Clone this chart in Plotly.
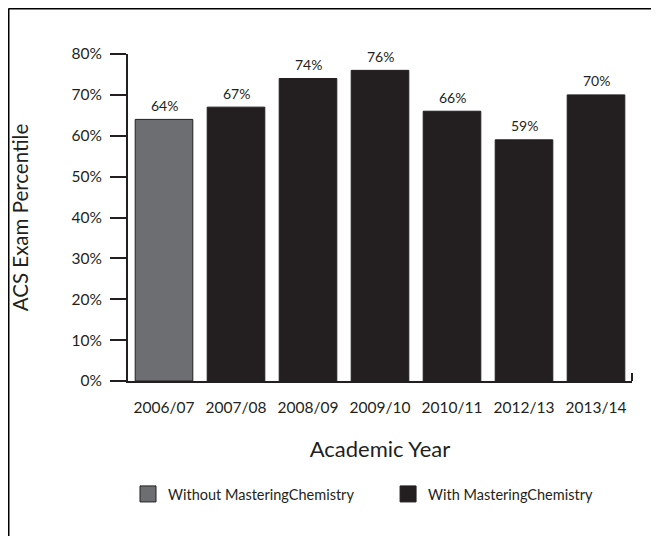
import plotly.graph_objects as go

years = ["2006/07", "2007/08", "2008/09", "2009/10", "2010/11", "2012/13", "2013/14"]
without_years = ["2006/07"]
without_vals = [64]
with_years = ["2007/08", "2008/09", "2009/10", "2010/11", "2012/13", "2013/14"]
with_vals = [67, 74, 76, 66, 59, 70]
y_ticks = [0, 10, 20, 30, 40, 50, 60, 70, 80]
y_tick_text = [f"{v}%" for v in y_ticks]

GRAY = "#6d6e71"
BLACK = "#231f20"
TXT = "#231f20"
FONT = "Lato"

fig = go.Figure()
fig.add_trace(go.Bar(x=without_years, y=without_vals, marker=dict(color=GRAY, line=dict(color=BLACK, width=1)),
                     showlegend=False))
fig.add_trace(go.Bar(x=with_years, y=with_vals, marker=dict(color=BLACK, line=dict(color=BLACK, width=1)),
                     showlegend=False))
# legend entries
fig.add_trace(go.Scatter(x=[None], y=[None], mode="markers", name="Without MasteringChemistry", legend="legend",
                         marker=dict(symbol="square", size=18, color=GRAY, line=dict(color=BLACK, width=1))))
fig.add_trace(go.Scatter(x=[None], y=[None], mode="markers", name="With MasteringChemistry", legend="legend2",
                         marker=dict(symbol="square", size=18, color=BLACK, line=dict(color=BLACK, width=1))))

# value labels above bars
for xs, vs in ((without_years, without_vals), (with_years, with_vals)):
    for xv, v in zip(xs, vs):
        fig.add_annotation(x=xv, y=v, xref="x", yref="y", text=f"{v}%", showarrow=False,
                           yanchor="middle", yshift=14,
                           font=dict(size=14, color=TXT, family=FONT))

leg_font = dict(size=14.5, color=TXT, family=FONT)
fig.update_layout(
    width=651, height=528,
    margin=dict(l=120, r=27, t=46, b=155),
    paper_bgcolor="white", plot_bgcolor="white",
    barmode="overlay", bargap=0.2,
    font=dict(family=FONT, color=TXT),
    legend=dict(orientation="h", x=0.0, xanchor="left", y=-0.3456, yanchor="middle",
                font=leg_font, bgcolor="rgba(0,0,0,0)"),
    legend2=dict(orientation="h", x=0.516, xanchor="left", y=-0.3456, yanchor="middle",
                 font=leg_font, bgcolor="rgba(0,0,0,0)"),
    xaxis=dict(categoryorder="array", categoryarray=years, showline=True, linecolor=BLACK, linewidth=2,
               ticks="", tickfont=dict(size=15.5, color=TXT), ticklabelstandoff=11, automargin=False,
               title=dict(text="Academic Year", font=dict(size=22, color=TXT), standoff=27),
               showgrid=False, zeroline=False, fixedrange=True),
    yaxis=dict(range=[0, 80], tickvals=y_ticks, ticktext=y_tick_text, showline=True, linecolor=BLACK, linewidth=2,
               ticks="outside", ticklen=16, tickwidth=2, tickcolor=BLACK, automargin=False,
               tickfont=dict(size=15.5, color=TXT), ticklabelstandoff=5,
               title=dict(text="ACS Exam Percentile", font=dict(size=20.5, color=TXT), standoff=39),
               showgrid=False, zeroline=False, fixedrange=True),
    shapes=[
        dict(type="line", xref="paper", yref="paper", x0=1, x1=1, y0=0, y1=0.0245,
             line=dict(color=BLACK, width=2)),
        dict(type="line", xref="paper", yref="paper", x0=-0.2371, x1=-0.2371, y0=1.1391, y1=-0.6,
             line=dict(color="black", width=2)),
        dict(type="line", xref="paper", yref="paper", x0=-0.2371, x1=1.2, y0=1.1391, y1=1.1391,
             line=dict(color="black", width=2)),
    ],
)

fig.write_html("out.html")
